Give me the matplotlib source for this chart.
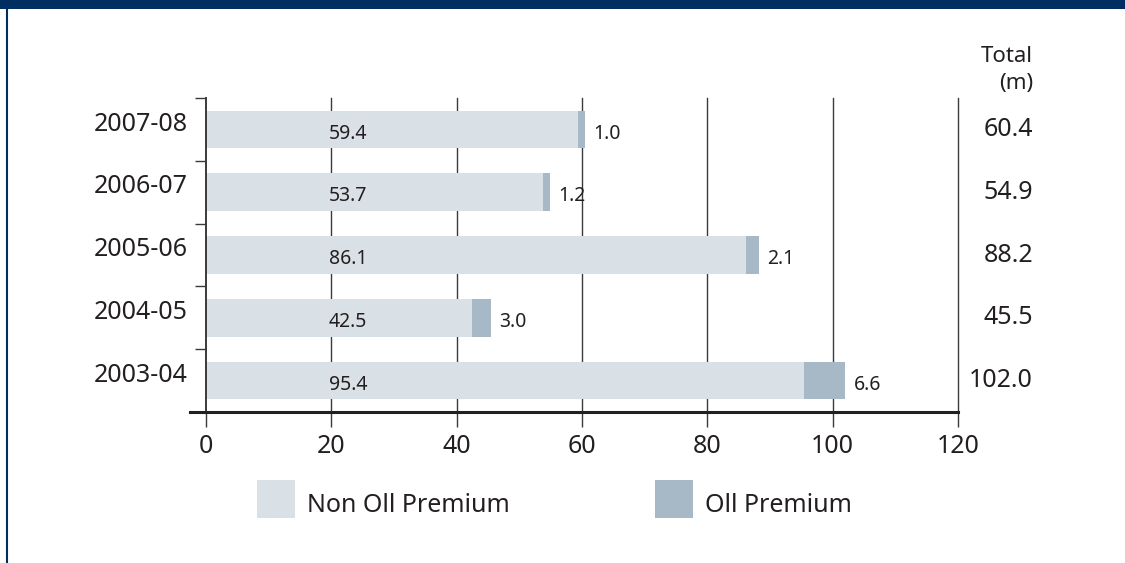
import matplotlib
matplotlib.use("Agg")
import matplotlib.pyplot as plt
from matplotlib.patches import Rectangle
from matplotlib.lines import Line2D
import matplotlib.transforms as mtransforms

plt.rcParams['font.family'] = ['Noto Sans', 'DejaVu Sans']

# Data
years = ["2003-04", "2004-05", "2005-06", "2006-07", "2007-08"]
non_oil = [95.4, 42.5, 86.1, 53.7, 59.4]
oil = [6.6, 3.0, 2.1, 1.2, 1.0]
totals = [102.0, 45.5, 88.2, 54.9, 60.4]
x_ticks = [0, 20, 40, 60, 80, 100, 120]
legend_labels = ["Non Oll Premium", "Oll Premium"]

C_NON = "#D9E0E6"
C_OIL = "#A7B8C6"
NAVY = "#002D62"
TXT = "#231F20"
GRID = "#3A3A3A"

W, H = 1125, 563
fig = plt.figure(figsize=(W / 100, H / 100), dpi=100)

# Frame decoration: navy band on top and thin rule on the left
fig.patches.append(Rectangle((0, 1 - 9 / H), 1, 9 / H, transform=fig.transFigure,
                             facecolor=NAVY, edgecolor="none"))
fig.lines.append(Line2D([6.5 / W, 6.5 / W], [0, 1 - 9 / H], transform=fig.transFigure,
                        color=NAVY, linewidth=1.5))

ax_l, ax_r, ax_t, ax_b = 206, 958, 98, 412
ax = fig.add_axes([ax_l / W, 1 - ax_b / H, (ax_r - ax_l) / W, (ax_b - ax_t) / H])

ypos = list(range(len(years)))
ax.barh(ypos, non_oil, height=0.6, color=C_NON, zorder=1)
ax.barh(ypos, oil, left=non_oil, height=0.6, color=C_OIL, zorder=1)

ax.set_xlim(0, 120)
ax.set_ylim(-0.5, len(years) - 0.5)

# Vertical grid
for xv in x_ticks[1:]:
    ax.axvline(xv, color=GRID, linewidth=1.0, zorder=0.5, clip_on=False)

# Spines
for s in ["top", "right", "bottom"]:
    ax.spines[s].set_visible(False)
ax.spines["left"].set_color(GRID)
ax.spines["left"].set_linewidth(1.4)
ax.plot([-16 / (ax_r - ax_l), 1], [0, 0], transform=ax.transAxes, color=TXT,
        linewidth=2.2, clip_on=False, zorder=3)

# X ticks
ax.set_xticks(x_ticks)
ax.set_xticklabels([str(v) for v in x_ticks])
ax.tick_params(axis="x", direction="out", length=11, width=1.0, color=GRID,
               labelsize=18, labelcolor=TXT, pad=5)

# Y: boundary ticks (minor) and centred labels (major)
ax.set_yticks(ypos)
ax.set_yticklabels(years)
ax.set_yticks([i - 0.5 for i in range(len(years) + 1)], minor=True)
ax.tick_params(axis="y", which="major", length=0, labelsize=18, labelcolor=TXT, pad=13)
ax.tick_params(axis="y", which="minor", direction="out", length=8, width=1.0, color=GRID)
shift = mtransforms.ScaledTranslation(0, 6 / 72, fig.dpi_scale_trans)
for lab in ax.get_yticklabels():
    lab.set_transform(lab.get_transform() + shift)

# Value labels
total_tf = mtransforms.blended_transform_factory(ax.transAxes, ax.transData)
for i in ypos:
    ax.annotate(f"{non_oil[i]:.1f}", xy=(22.7, i), xytext=(0, -3), textcoords="offset points",
                ha="center", va="center", fontsize=14, color=TXT, zorder=4)
    ax.annotate(f"{oil[i]:.1f}", xy=(non_oil[i] + oil[i], i), xytext=(6, -3),
                textcoords="offset points", ha="left", va="center", fontsize=14,
                color=TXT, zorder=4)
    ax.text((1033 - ax_l) / (ax_r - ax_l), i, f"{totals[i]:.1f}", transform=total_tf,
            ha="right", va="center", fontsize=18, color=TXT)

fig.text(1033 / W, 1 - 70 / H, "Total\n(m)", ha="right", va="center", fontsize=16,
         color=TXT, linespacing=1.35)

# Legend
for (x0, lab, col) in [(257, legend_labels[0], C_NON), (655, legend_labels[1], C_OIL)]:
    fig.patches.append(Rectangle((x0 / W, 1 - 518 / H), 38 / W, 38 / H,
                                 transform=fig.transFigure, facecolor=col, edgecolor="none"))
    fig.text((x0 + 50) / W, 1 - 505 / H, lab, ha="left", va="center", fontsize=18, color=TXT)

fig.savefig("out.png", dpi=100)
